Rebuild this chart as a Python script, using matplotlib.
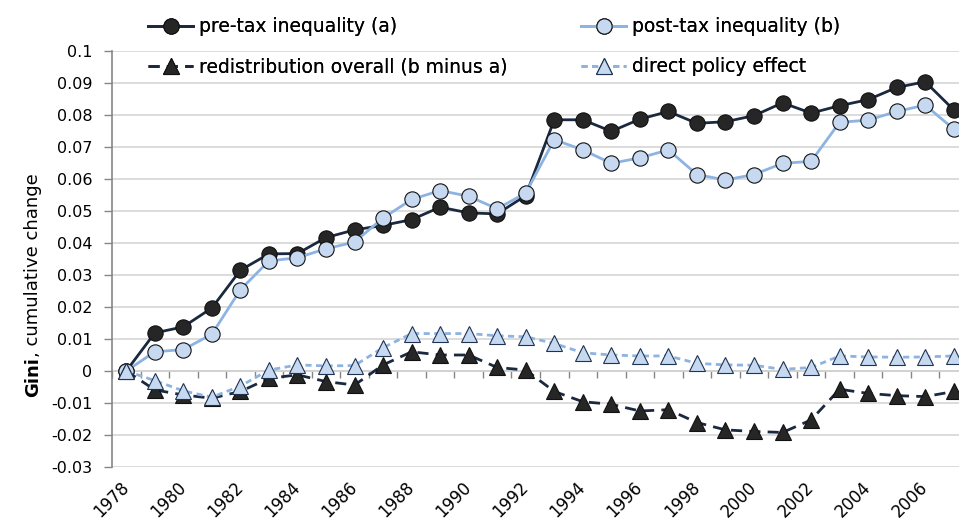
import matplotlib
matplotlib.use("Agg")
import matplotlib.pyplot as plt
from matplotlib.ticker import FixedLocator, FuncFormatter

plt.rcParams['font.family'] = ['DejaVu Sans']

years = list(range(1978, 2008))
pre_tax = [0.0, 0.0119, 0.0138, 0.0197, 0.0315, 0.0366, 0.0367, 0.0417, 0.0441, 0.0455,
           0.0473, 0.0512, 0.0494, 0.0491, 0.0548, 0.0785, 0.0785, 0.0749, 0.0787, 0.0811,
           0.0774, 0.0779, 0.0798, 0.0838, 0.0806, 0.0829, 0.0848, 0.0886, 0.0904, 0.0816]
post_tax = [0.0, 0.0060, 0.0067, 0.0115, 0.0254, 0.0344, 0.0354, 0.0382, 0.0403, 0.0478,
            0.0536, 0.0564, 0.0546, 0.0507, 0.0556, 0.0723, 0.0691, 0.0649, 0.0666, 0.0691,
            0.0614, 0.0597, 0.0614, 0.0649, 0.0655, 0.0777, 0.0784, 0.0811, 0.0831, 0.0756]
redistribution = [0.0, -0.0059, -0.0075, -0.0085, -0.0064, -0.0023, -0.0012, -0.0033, -0.0044, 0.0019,
                  0.0060, 0.0050, 0.0050, 0.0011, 0.0003, -0.0064, -0.0096, -0.0104, -0.0125, -0.0121,
                  -0.0161, -0.0184, -0.0189, -0.0192, -0.0153, -0.0057, -0.0070, -0.0077, -0.0080, -0.0064]
direct_policy = [0.0, -0.0030, -0.0062, -0.0082, -0.0047, 0.0003, 0.0019, 0.0016, 0.0017, 0.0073,
                 0.0117, 0.0117, 0.0117, 0.0110, 0.0107, 0.0086, 0.0057, 0.0050, 0.0047, 0.0047,
                 0.0024, 0.0019, 0.0018, 0.0005, 0.0011, 0.0047, 0.0044, 0.0043, 0.0044, 0.0047]

labels = ["pre-tax inequality (a)", "post-tax inequality (b)",
          "redistribution overall (b minus a)", "direct policy effect"]
y_ticks = [-0.03, -0.02, -0.01, 0, 0.01, 0.02, 0.03, 0.04, 0.05, 0.06, 0.07, 0.08, 0.09, 0.1]
x_label_years = list(range(1978, 2008, 2))

W, H = 959, 520
fig = plt.figure(figsize=(W / 100, H / 100), dpi=100)
L, R, T, B = 112, 968, 51, 467
ax = fig.add_axes([L / W, (H - B) / H, (R - L) / W, (B - T) / H])

dark = '#1B2940'
light = '#8DB3E2'
fill_light = '#C6D9F1'
ms = 11

h1, = ax.plot(years, pre_tax, color=dark, lw=2.0, marker='o', ms=ms,
              mfc='#262626', mec='#111111', mew=0.8, zorder=3)
h2, = ax.plot(years, post_tax, color=light, lw=2.0, marker='o', ms=ms,
              mfc=fill_light, mec='#111111', mew=0.8, zorder=3)
h3, = ax.plot(years, redistribution, color=dark, lw=2.0, marker='^', ms=ms,
              mfc='#262626', mec='#111111', mew=0.8, dashes=(4, 2.6), zorder=3)
h4, = ax.plot(years, direct_policy, color=light, lw=2.0, marker='^', ms=ms,
              mfc=fill_light, mec='#1F3350', mew=0.8, dashes=(2.2, 1.6), zorder=3)

ax.set_xlim(1977.5, 2007.5)
ax.set_ylim(-0.03, 0.1)
ax.yaxis.set_major_locator(FixedLocator(y_ticks))
ax.yaxis.set_major_formatter(FuncFormatter(lambda v, p: f"{v:g}" if abs(v) > 1e-12 else "0"))
ax.yaxis.grid(True, color='#D9D9D9', lw=1.3)
ax.set_axisbelow(True)

for s in ['top', 'right', 'bottom']:
    ax.spines[s].set_visible(False)
ax.spines['left'].set_color('#868686')
ax.spines['left'].set_linewidth(1.2)
ax.tick_params(axis='y', direction='out', length=6, width=1.0, color='#868686',
               labelsize=11.5, pad=8, labelcolor='#000000')

ax.xaxis.set_major_locator(FixedLocator(x_label_years))
ax.tick_params(axis='x', length=0, labelsize=12, pad=13)
for lab in ax.get_xticklabels():
    lab.set_rotation(45)
    lab.set_ha('right')
    lab.set_va('center')
    lab.set_rotation_mode('anchor')

# zero axis with category-boundary tick marks
sec = ax.secondary_xaxis(0.03 / 0.13)
sec.spines['bottom'].set_color('#868686')
sec.spines['bottom'].set_linewidth(1.2)
sec.xaxis.set_major_locator(FixedLocator([y + 0.5 for y in range(1977, 2008)]))
sec.tick_params(axis='x', direction='out', length=5, width=1.0, color='#868686',
                labelbottom=False)

# y label: bold "Gini" + normal remainder
t1 = fig.text(33 / W, 1 - 397 / H, "Gini", rotation=90, weight='bold',
              fontsize=13, ha='center', va='bottom')
ax.annotate(", cumulative change", xy=(0.5, 1), xycoords=t1, rotation=90,
            fontsize=13, ha='center', va='bottom')

leg_kw = dict(frameon=False, fontsize=13.5, handlelength=2.4, handletextpad=0.3,
              borderaxespad=0, borderpad=0)
entries = [(h1, labels[0], 148, 27), (h2, labels[1], 581, 27),
           (h3, labels[2], 148, 67), (h4, labels[3], 581, 67)]
for h, lab, x, y in entries:
    lg = fig.legend([h], [lab], loc='center left', bbox_to_anchor=(x / W, 1 - y / H), **leg_kw)
    fig.add_artist(lg)

fig.savefig("out.png", dpi=100)
